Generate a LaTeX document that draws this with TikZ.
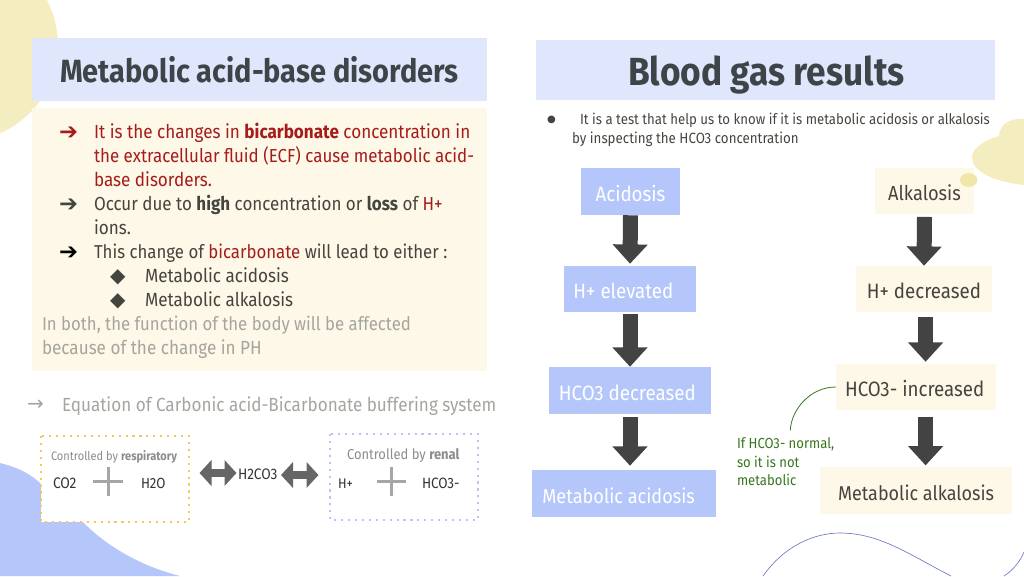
\documentclass[tikz,border=0pt]{standalone}
\usepackage{fontspec}
\usetikzlibrary{arrows.meta,calc}
\setmainfont[FakeStretch=0.9]{Fira Sans}
\newfontfamily\symfont{DejaVu Sans}
\definecolor{bluehead}{HTML}{E0E6FC}
\definecolor{bluebox}{HTML}{B5C6FB}
\definecolor{cream}{HTML}{FDF8E7}
\definecolor{blob}{HTML}{F3EDC0}
\definecolor{blobdark}{HTML}{EFE6A8}
\definecolor{ink}{HTML}{3F4448}
\definecolor{darkred}{HTML}{A61C1C}
\definecolor{bodyink}{HTML}{45453F}
\definecolor{greytext}{HTML}{A5A5A0}
\definecolor{notegreen}{HTML}{38761D}
\definecolor{arrowdark}{HTML}{434343}
\definecolor{dotyellow}{HTML}{F6C65B}
\definecolor{dotblue}{HTML}{BCC3F2}
\definecolor{curveblue}{HTML}{6C7BC0}
\definecolor{eqink}{HTML}{333333}
\newcommand{\fs}[1]{\fontsize{#1}{#1}\selectfont}
\tikzset{
  x=0.75pt,y=-0.75pt,
  tx/.style={anchor=base west,inner sep=0pt,outer sep=0pt,align=left},
  acidbox/.style={fill=bluebox,text=white,inner sep=0pt,font=\fs{15.6},text height=15pt,text depth=0.6pt},
  alkbox/.style={fill=cream,text=bodyink,inner sep=0pt,font=\fs{15.6},text height=15pt,text depth=0.6pt},
  flow/.style={arrowdark,line width=11.25pt,-{Triangle[length=14.5pt,width=25.5pt]}},
  twoway/.style={color=black!60,line width=6.5pt,{Triangle[length=9pt,width=19pt]}-{Triangle[length=9pt,width=19pt]}},
  plusbar/.style={color=black!35,line width=2.5pt},
  dotbox/.style={fill=white,line width=1.6pt,dash pattern=on 1.6pt off 3.6pt}
}
\begin{document}
\begin{tikzpicture}
\useasboundingbox (0,0) rectangle (1024,576);
% decorative blobs
\fill[blob] (-38,45) circle[radius=72pt];
\fill[bluebox] (0,463) .. controls (20,468) and (32,475) .. (41,484) -- (41,522) -- (83,522)
  .. controls (105,545) and (140,566) .. (180,576) -- (0,576) -- cycle;
\fill[blob] (1024,119) .. controls (1008,118) and (1000,125) .. (999,136)
  .. controls (985,140) and (972,148) .. (972,157) .. controls (972,172) and (995,182) .. (1024,185) -- cycle;
\draw[curveblue,line width=0.5pt] (763,576) .. controls (785,545) and (815,533) .. (840,533)
  .. controls (880,533) and (910,555) .. (951,576);
\draw[curveblue,line width=0.5pt] (1004,576) .. controls (1013,570) and (1020,562) .. (1024,552);
% panels
\fill[bluehead] (32,38) rectangle (487,101);
\fill[bluehead] (536,40) rectangle (995,100);
\fill[cream] (32,108) rectangle (487,371);
\node[tx,text=ink,font=\fs{24.1}\bfseries] (titleL) at (60,82) {Metabolic acid-base disorders};
\node[tx,text=ink,font=\fs{29.4}\bfseries] (titleR) at (628,85) {Blood gas results};
% left body text
\node[tx,text=darkred,font=\fs{17}\symfont] (b1) at (59,139) {➔};
\node[tx,text=bodyink,font=\fs{17}\symfont] (b2) at (59,211) {➔};
\node[tx,text=black,font=\fs{17}\symfont] (b3) at (59,259) {➔};
\node[tx,text=bodyink,font=\fs{15}\symfont] (b4) at (110,282) {◆};
\node[tx,text=bodyink,font=\fs{15}\symfont] (b5) at (110,306) {◆};
\node[tx,text=darkred,font=\fs{14.25}] (t1) at (94,138) {It is the changes in \textbf{bicarbonate} concentration in};
\node[tx,text=darkred,font=\fs{14.1}] (t1b) at (94,162) {the extracellular fluid (ECF) cause metabolic acid-};
\node[tx,text=darkred,font=\fs{14.25}] (t1c) at (94,186) {base disorders.};
\node[tx,text=bodyink,font=\fs{14.15}] (t2) at (94,210) {Occur due to \textbf{high} concentration or \textbf{loss} of \textcolor{darkred}{H+}};
\node[tx,text=bodyink,font=\fs{14.25}] (t2b) at (94,234) {ions.};
\node[tx,text=bodyink,font=\fs{14}] (t3) at (94,258) {This change of \textcolor{darkred}{bicarbonate} will lead to either :};
\node[tx,text=bodyink,font=\fs{14.25}] (t4) at (145,282) {Metabolic acidosis};
\node[tx,text=bodyink,font=\fs{14.25}] (t5) at (145,306) {Metabolic alkalosis};
\node[tx,text=greytext,font=\fs{13.95}] (t6) at (42,330) {In both, the function of the body will be affected};
\node[tx,text=greytext,font=\fs{14.25}] (t6b) at (42,354) {because of the change in PH};
% equation
\node[tx,text=greytext,font=\fs{15}\symfont] (eqa) at (27,410) {→};
\node[tx,text=greytext,font=\fs{14.25}] (eq) at (62,411) {Equation of Carbonic acid-Bicarbonate buffering system};
\draw[dotbox,draw=dotyellow] (41,436) rectangle (189,522);
\draw[dotbox,draw=dotblue] (330,434) rectangle (478,520);
\node[tx,text=black!45,font=\fs{9.2}] (cL) at (51,460) {Controlled by \textbf{respiratory}};
\node[tx,text=black!45,font=\fs{10.8}] (cR) at (347,459) {Controlled by \textbf{renal}};
\node[tx,text=eqink,font=\fs{11.5}] (co2) at (53,488) {CO2};
\node[tx,text=eqink,font=\fs{11}] (h2o) at (141,488) {H2O};
\node[tx,text=eqink,font=\fs{10.5}] (hp) at (338,488) {H+};
\node[tx,text=eqink,font=\fs{11.2}] (hco) at (422,488) {HCO3-};
\node[tx,text=eqink,font=\fs{11.4}] (h2co3) at (238,479) {H2CO3};
\draw[plusbar] (93,481.5) -- (123,481.5);
\draw[plusbar] (108.5,467) -- (108.5,496);
\draw[plusbar] (377,481.5) -- (406,481.5);
\draw[plusbar] (391.5,467) -- (391.5,496);
\draw[twoway] (199.5,473) -- (236.5,473);
\draw[twoway] (281,475) -- (318.5,475);
% blood gas text
\node[tx,text=bodyink,font=\fs{7.5}\symfont] (dot) at (547,122) {●};
\node[tx,text=bodyink,font=\fs{11}] (bg1) at (580,124) {It is a test that help us to know if it is metabolic acidosis or alkalosis};
\node[tx,text=bodyink,font=\fs{11.1}] (bg2) at (572,143) {by inspecting the HCO3 concentration};
% flow boxes
\node[acidbox,minimum width=74.25pt,minimum height=35.25pt] (a1) at (630.5,191.5) {Acidosis};
\node[acidbox,minimum width=99pt,minimum height=34.5pt] (a2) at (630,289) {H+ elevated\kern 10pt};
\node[acidbox,minimum width=121.5pt,minimum height=35.25pt] (a3) at (630,390.5) {HCO3 decreased\kern 4pt};
\node[acidbox,font=\fs{15.1},minimum width=138pt,minimum height=35.25pt] (a4) at (624,493.5) {Metabolic acidosis\kern 8pt};
\node[alkbox,font=\fs{15.2},minimum width=74.25pt,minimum height=34.5pt] (k1) at (924.5,191) {Alkalosis};
\node[alkbox,minimum width=102pt,minimum height=34.5pt] (k2) at (924,289) {H+ decreased};
\node[alkbox,minimum width=120pt,minimum height=34.5pt] (k3) at (916,387) {HCO3- increased\kern 2pt};
\node[alkbox,font=\fs{15},minimum width=144pt,minimum height=35.25pt] (k4) at (916,490.5) {Metabolic alkalosis};
% small blob overlaps alkalosis corner
\fill[blobdark] (968.7,180) ellipse[x radius=6.5pt,y radius=5.2pt];
% flow arrows
\draw[flow] (a1.south) -- ([yshift=1.5pt]a2.north);
\draw[flow] ([yshift=-1.5pt]a2.south) -- (a3.north);
\draw[flow] ([yshift=-2.25pt]a3.south) -- ([xshift=4.5pt,yshift=3pt]a4.north);
\draw[flow] ([yshift=-2pt]k1.south) -- (k2.north);
\draw[flow] ([xshift=1.2pt,yshift=-3.5pt]k2.south) -- ([xshift=7.2pt,yshift=1.5pt]k3.north);
\draw[flow] ([xshift=7.2pt,yshift=-5pt]k3.south) -- ([xshift=7.2pt,yshift=1pt]k4.north);
% note
\node[tx,text=notegreen,font=\fs{10.9}] (n1) at (737,448) {If HCO3- normal,};
\node[tx,text=notegreen,font=\fs{10.9}] (n2) at (737,467) {so it is not};
\node[tx,text=notegreen,font=\fs{10.9}] (n3) at (737,485) {metabolic};
\draw[notegreen,line width=0.6pt] ([xshift=3.5pt,yshift=5pt]n1.north) .. controls (791,410) and (810,387) .. (k3.west);
\end{tikzpicture}
\end{document}
